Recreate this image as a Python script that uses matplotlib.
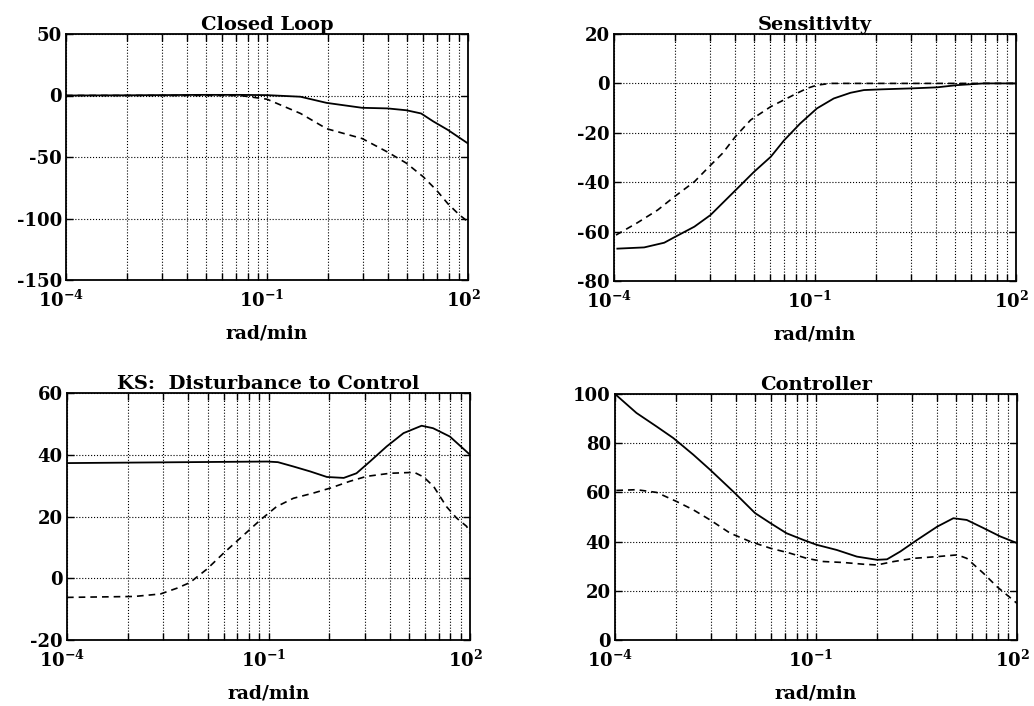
import numpy as np
import matplotlib
matplotlib.use('Agg')
import matplotlib.pyplot as plt
from matplotlib.transforms import ScaledTranslation

plt.rcParams['font.family'] = ['DejaVu Serif']
plt.rcParams['mathtext.fontset'] = 'dejavuserif'
plt.rcParams['axes.unicode_minus'] = False

cl_solid_lw = [-4.0, -3.0, -2.0, -1.4, -1.0, -0.5, -0.11, 0.42, 0.8, 1.08, 1.3, 1.48, 1.7, 2.0]
cl_solid = [0.0, 0.2, 0.5, 0.5, 0.3, -1.0, -6.0, -10.0, -10.5, -12.0, -14.6, -21.0, -28.0, -39.0]
cl_dash_lw = [-4.0, -2.0, -1.4, -1.0, -0.5, -0.11, 0.42, 0.8, 1.08, 1.33, 1.53, 1.7, 1.87, 2.0]
cl_dash = [0.0, 0.0, 0.0, -3.0, -14.6, -27.0, -35.0, -46.0, -55.0, -66.0, -77.0, -88.0, -97.0, -102.6]

se_solid_lw = [-3.95, -3.55, -3.25, -3.1, -2.8, -2.56, -2.21, -1.91, -1.66, -1.46, -1.22, -0.97,
               -0.72, -0.47, -0.27, 0.0, 0.46, 0.82, 1.12, 1.52, 2.0]
se_solid = [-66.9, -66.4, -64.5, -62.3, -58.0, -53.3, -43.9, -35.8, -29.7, -23.0, -16.2, -10.1,
            -6.1, -3.8, -2.7, -2.4, -2.0, -1.6, -0.7, 0.0, 0.0]
se_dash_lw = [-3.97, -3.65, -3.35, -3.1, -2.8, -2.58, -2.38, -2.19, -1.96, -1.66, -1.32, -1.12,
              -0.97, -0.77, 0.0, 1.0, 2.0]
se_dash = [-61.4, -56.4, -51.3, -45.9, -39.8, -33.7, -28.3, -21.6, -14.8, -9.4, -4.7, -2.0,
           -0.7, 0.0, 0.0, 0.0, 0.0]

ks_solid_lw = [-4.0, -1.02, -0.86, -0.63, -0.38, -0.13, 0.12, 0.31, 0.51, 0.76, 1.01, 1.28,
               1.45, 1.7, 2.0]
ks_solid = [37.3, 37.8, 37.6, 36.2, 34.6, 32.8, 32.5, 34.0, 37.8, 42.7, 47.0, 49.4, 48.6, 45.9, 40.0]
ks_dash_lw = [-4.0, -3.0, -2.61, -2.36, -2.17, -1.92, -1.67, -1.42, -1.12, -0.88, -0.63, -0.33,
              -0.08, 0.21, 0.46, 0.81, 1.17, 1.31, 1.46, 1.65, 1.8, 1.95, 2.0]
ks_dash = [-6.2, -5.9, -5.1, -3.2, -1.4, 2.9, 8.1, 13.0, 18.9, 23.2, 25.9, 27.6,
           29.2, 31.4, 33.0, 34.0, 34.3, 32.8, 29.7, 23.2, 19.5, 16.8, 14.6]

ct_solid_lw = [-4.0, -3.68, -3.38, -3.13, -2.83, -2.58, -2.21, -1.91, -1.68, -1.44, -1.19, -0.99,
               -0.69, -0.39, -0.09, 0.06, 0.26, 0.51, 0.81, 1.05, 1.25, 1.5, 1.75, 2.0]
ct_solid = [100.0, 92.3, 86.8, 82.1, 75.3, 69.2, 59.7, 51.6, 47.5, 43.4, 40.7, 38.7,
            36.6, 33.9, 32.6, 32.8, 36.0, 40.7, 46.1, 49.5, 48.8, 45.5, 42.1, 39.4]
ct_dash_lw = [-3.98, -3.68, -3.38, -3.08, -2.83, -2.58, -2.28, -1.98, -1.68, -1.39, -1.14, -0.89,
              -0.59, -0.29, -0.09, 0.16, 0.46, 0.81, 1.11, 1.25, 1.5, 1.7, 1.85, 2.0]
ct_dash = [60.8, 61.1, 60.0, 56.3, 52.9, 48.8, 43.4, 40.0, 37.3, 35.3, 33.2, 31.9,
           31.5, 30.8, 30.5, 31.9, 33.2, 33.9, 34.6, 33.2, 27.1, 21.7, 18.3, 14.9]

titles = ['Closed Loop', 'Sensitivity', 'KS:  Disturbance to Control', 'Controller']
ylims = [(-150, 50), (-80, 20), (-20, 60), (0, 100)]
ysteps = [50, 20, 20, 20]
xtick_vals = [1e-4, 1e-1, 1e2]
xtick_labels = [r'$\mathbf{10^{-4}}$', r'$\mathbf{10^{-1}}$', r'$\mathbf{10^{2}}$']

curves = [
    (cl_solid_lw, cl_solid, cl_dash_lw, cl_dash),
    (se_solid_lw, se_solid, se_dash_lw, se_dash),
    (ks_solid_lw, ks_solid, ks_dash_lw, ks_dash),
    (ct_solid_lw, ct_solid, ct_dash_lw, ct_dash),
]

# axes boxes in pixels (left, top, right, bottom)
boxes = [(66, 34, 468, 280), (614, 34, 1016, 281), (67, 393, 470, 640), (615, 394, 1017, 640)]

W, H = 1034, 706
fig = plt.figure(figsize=(W / 100, H / 100), dpi=100)

# old-style grid: 2..9 steps inside each 3-decade span
minor = [b * k ** 3 for b in (1e-4, 1e-1) for k in range(2, 10)]
shift = ScaledTranslation(-5 / 100, 0, fig.dpi_scale_trans)

for i in range(4):
    l, t, r, b = boxes[i]
    ax = fig.add_axes([l / W, (H - b) / H, (r - l) / W, (b - t) / H])
    sx, sy, dx, dy = curves[i]
    ax.plot(np.power(10.0, sx), sy, color='black', lw=1.3)
    ax.plot(np.power(10.0, dx), dy, color='black', lw=1.2, ls=(0, (4, 3)))
    ax.set_xscale('log')
    ax.set_xlim(1e-4, 1e2)
    ax.set_ylim(*ylims[i])
    ax.set_xticks(xtick_vals)
    ax.set_xticklabels(xtick_labels)
    ax.set_xticks(minor, minor=True)
    ax.set_xticklabels([], minor=True)
    ax.set_yticks(np.arange(ylims[i][0], ylims[i][1] + 1, ysteps[i]))
    ax.tick_params(axis='both', which='both', direction='in', top=True, right=True,
                   width=1.0, labelsize=13)
    ax.tick_params(axis='both', which='major', length=5)
    ax.tick_params(axis='x', which='minor', length=5)
    ax.tick_params(axis='x', which='major', pad=7)
    ax.tick_params(axis='y', which='major', pad=3)
    for lab in ax.get_yticklabels():
        lab.set_fontweight('bold')
    for lab in ax.get_xticklabels():
        lab.set_transform(lab.get_transform() + shift)
    ax.grid(True, which='both', axis='x', color='black', ls=':', lw=0.8)
    ax.grid(True, which='major', axis='y', color='black', ls=':', lw=0.8)
    for sp in ax.spines.values():
        sp.set_linewidth(1.3)
    ax.set_title(titles[i], fontsize=14, fontweight='bold', pad=2)
    ax.set_xlabel('rad/min', fontsize=13.5, fontweight='bold', labelpad=10)

fig.savefig('out.png', dpi=100)
